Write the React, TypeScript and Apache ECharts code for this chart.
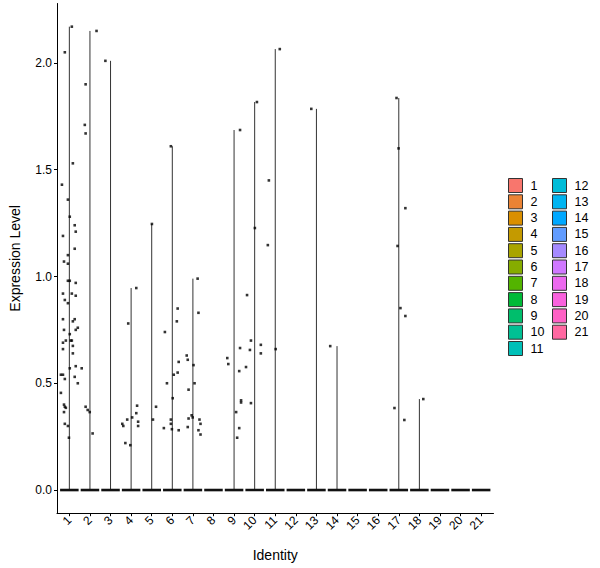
import React, { useEffect, useRef } from 'react';
import * as echarts from 'echarts';

const CATEGORIES = ['1','2','3','4','5','6','7','8','9','10','11','12','13','14','15','16','17','18','19','20','21'];

const COLORS = ['#F8766D','#EB8335','#DA8F00','#C49A00','#A9A400','#86AC00','#53B400','#00BA38','#00BE6C','#00C094','#00C0B8','#00BCD8','#00B4F0','#00A8FF','#619CFF','#A58AFF','#D078FF','#EC69EF','#F962DD','#FF61C5','#FF68A1'];

const Y_TICKS = [0, 0.5, 1, 1.5, 2];

// Non-zero expression values per identity (cells at zero form the flat violin base)
const EXPRESSION: number[][] = [
  [2.17,2.05,1.53,1.43,1.36,1.28,1.24,1.21,1.19,1.13,1.10,1.07,1.06,0.98,0.98,0.97,0.92,0.92,0.91,0.89,0.875,0.80,0.80,0.79,0.75,0.76,0.75,0.73,0.70,0.70,0.69,0.70,0.675,0.66,0.64,0.57,0.50,0.58,0.54,0.54,0.53,0.52,0.455,0.40,0.39,0.385,0.365,0.31,0.30,0.245],
  [2.15,1.90,1.71,1.67,0.57,0.39,0.375,0.365,0.265],
  [2.01],
  [0.946,0.78,0.395,0.36,0.34,0.32,0.30,0.33,0.31,0.30,0.22,0.21],
  [1.246,0.39,0.33],
  [1.61,0.74,0.85,0.79,0.60,0.54,0.55,0.50,0.43,0.33,0.31,0.29,0.285,0.28],
  [0.99,0.83,0.63,0.61,0.585,0.50,0.47,0.35,0.34,0.335,0.295,0.33,0.31,0.28,0.26],
  [],
  [1.686,0.665,0.618,0.59,0.557,0.42,0.41,0.365,0.29,0.245],
  [1.817,1.227,0.913,0.70,0.656,0.68,0.64,0.576,0.407],
  [2.065,1.45,1.147,0.66],
  [],
  [1.785],
  [0.674],
  [],
  [],
  [1.836,1.60,1.143,1.32,0.852,0.815,0.384,0.328],
  [0.426],
  [],
  [],
  [],
];

// Horizontal jitter of each point (in category widths)
const JITTER: number[][] = [
  [0.12,-0.22,0.17,-0.36,-0.07,0.02,0.26,0.31,-0.31,0.26,-0.07,-0.26,-0.07,-0.07,0.02,0.31,-0.31,0.12,0.31,-0.22,-0.07,-0.31,0.26,0.17,-0.26,0.41,0.31,0.02,0.07,0.12,-0.31,-0.17,0.17,-0.31,0.17,0.02,0.41,0.31,-0.41,-0.31,0.26,-0.22,-0.41,-0.26,-0.22,-0.17,-0.26,-0.22,-0.07,-0.02],
  [0.32,-0.21,-0.25,-0.21,-0.40,-0.21,-0.11,-0.01,0.13],
  [-0.25],
  [0.25,-0.14,0.29,0.25,0.05,0.34,0.34,-0.19,-0.43,-0.38,-0.28,-0.04],
  [0.01,0.21,0.06],
  [-0.07,-0.36,0.26,0.22,0.31,0.07,0.26,-0.26,0.02,-0.07,-0.07,-0.41,-0.02,0.31],
  [0.23,0.27,-0.30,-0.25,0.03,0.08,-0.21,-0.06,-0.01,-0.21,-0.25,0.32,0.37,0.27,0.37],
  [],
  [0.29,0.29,-0.33,-0.28,0.25,0.34,0.34,0.10,0.25,0.15],
  [0.11,0.01,-0.37,-0.18,-0.23,0.30,0.30,-0.42,-0.18],
  [0.22,-0.31,-0.36,0.02],
  [],
  [-0.25],
  [-0.33],
  [],
  [],
  [-0.11,-0.01,-0.06,0.32,0.08,0.32,-0.21,0.27],
  [0.19],
  [],
  [],
  [],
];

const FONT = '"Liberation Sans", Arial, Helvetica, sans-serif';

export default function App() {
  const ref = useRef<HTMLDivElement>(null);

  useEffect(() => {
    if (!ref.current) return;
    const chart = echarts.init(ref.current, undefined, { renderer: 'svg' });

    const allValues = EXPRESSION.flat();
    const yMaxData = Math.max(0, ...allValues);
    const pad = yMaxData * 0.05;

    const violinSeries = CATEGORIES.map((name, idx) => {
      const vals = EXPRESSION[idx];
      const top = vals.length ? Math.max(...vals) : 0;
      return {
        type: 'custom',
        name,
        color: COLORS[idx],
        itemStyle: { color: COLORS[idx] },
        z: 2,
        data: [[idx + 1, top]],
        renderItem: (params: any, api: any) => {
          const i = api.value(0);
          const t = api.value(1);
          const base = api.coord([i, 0]);
          const peak = api.coord([i, t]);
          const l = api.coord([i - 0.45, 0]);
          const r = api.coord([i + 0.45, 0]);
          const children: any[] = [];
          if (t > 0) {
            children.push({
              type: 'line',
              shape: { x1: base[0], y1: base[1], x2: peak[0], y2: peak[1] },
              style: { stroke: '#333333', lineWidth: 1 },
            });
          }
          children.push({
            type: 'rect',
            shape: { x: l[0], y: base[1] - 1.3, width: r[0] - l[0], height: 2.6 },
            style: { fill: '#111111' },
          });
          return { type: 'group', children };
        },
      };
    });

    const points: number[][] = [];
    EXPRESSION.forEach((vals, idx) => {
      vals.forEach((v, k) => points.push([idx + 1 + JITTER[idx][k], v]));
    });

    const legendBase = {
      orient: 'vertical',
      top: 173,
      padding: 5,
      itemWidth: 14,
      itemHeight: 14,
      itemGap: 1.3,
      icon: 'rect',
      selectedMode: false,
      itemStyle: { borderColor: '#333333', borderWidth: 1 },
      textStyle: { fontSize: 12.5, color: '#000', fontFamily: FONT, padding: [0, 0, 0, 3] },
    };

    chart.setOption({
      animation: false,
      backgroundColor: '#ffffff',
      textStyle: { fontFamily: FONT },
      grid: { left: 53, right: 106.5, top: 3.5, bottom: 54.8, containLabel: false },
      legend: [
        { ...legendBase, left: 503, data: CATEGORIES.slice(0, 11) },
        { ...legendBase, left: 547, data: CATEGORIES.slice(11) },
      ],
      xAxis: {
        type: 'value',
        min: 0.4,
        max: 21.6,
        splitLine: { show: false },
        name: 'Identity',
        nameLocation: 'middle',
        nameGap: 35,
        nameTextStyle: { fontSize: 14, color: '#000', fontFamily: FONT },
        axisLine: { show: true, onZero: false, lineStyle: { color: '#000', width: 1 } },
        axisTick: { show: true, length: 3, customValues: CATEGORIES.map((_, i) => i + 1), lineStyle: { color: '#000' } },
        axisLabel: {
          customValues: CATEGORIES.map((_, i) => i + 1),
          formatter: (v: number) => CATEGORIES[Math.round(v) - 1] ?? '',
          rotate: 45,
          margin: 5,
          fontSize: 12,
          color: '#000',
          fontFamily: FONT,
        },
      },
      yAxis: {
        type: 'value',
        min: -pad,
        max: yMaxData + pad,
        splitLine: { show: false },
        name: 'Expression Level',
        nameLocation: 'middle',
        nameGap: 35,
        nameRotate: 90,
        nameTextStyle: { fontSize: 14, color: '#000', fontFamily: FONT },
        axisLine: { show: true, onZero: false, lineStyle: { color: '#000', width: 1 } },
        axisTick: { show: true, length: 3, customValues: Y_TICKS, lineStyle: { color: '#000' } },
        axisLabel: {
          customValues: Y_TICKS,
          formatter: (v: number) => v.toFixed(1),
          margin: 5,
          fontSize: 12,
          color: '#000',
          fontFamily: FONT,
        },
      },
      series: [
        ...violinSeries,
        {
          type: 'scatter',
          name: 'cells',
          z: 5,
          symbol: 'rect',
          symbolSize: 2.6,
          itemStyle: { color: '#000' },
          data: points,
        },
      ],
    });

    return () => chart.dispose();
  }, []);

  return (
    <div
      ref={ref}
      style={{ position: 'fixed', left: 0, top: 0, width: 600, height: 568, background: '#fff' }}
    />
  );
}
